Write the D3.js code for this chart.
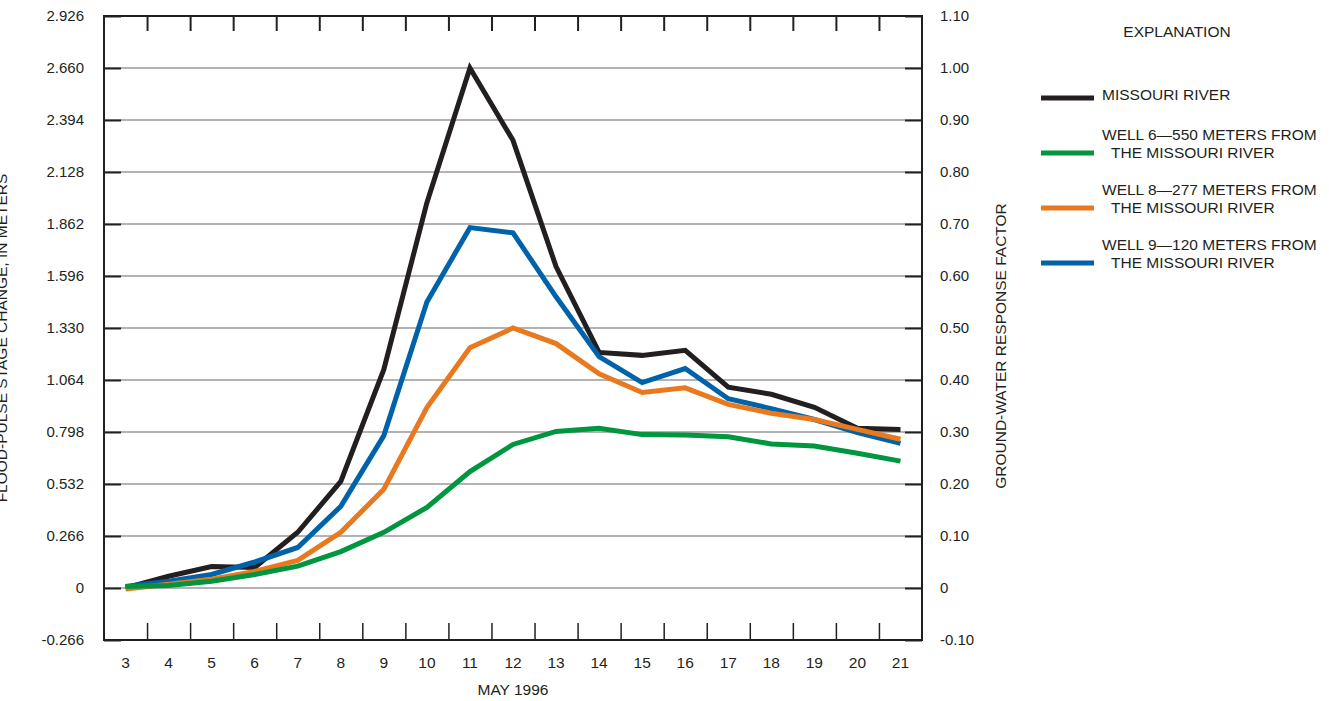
<!DOCTYPE html>
<html lang="en">
  <head>
    <meta charset="utf-8" />
    <title>Flood-pulse stage change and ground-water response</title>
    <style>
      body {
        margin: 0;
        background: #fff;
      }
      svg text {
        font-family: "Liberation Sans", Arial, Helvetica, sans-serif;
        fill: #231f20;
      }
      .grid line {
        stroke: #b3b3b3;
        stroke-width: 2px;
      }
      .series {
        fill: none;
        stroke-width: 5px;
        stroke-linejoin: miter;
      }
    </style>
    <script src="https://d3js.org/d3.v7.min.js"></script>
  </head>
  <body>
    <svg width="1329" height="701"></svg>
    <script>
      // days of May 1996
      var days = [3, 4, 5, 6, 7, 8, 9, 10, 11, 12, 13, 14, 15, 16, 17, 18, 19, 20, 21];

      // Missouri River flood-pulse stage change, meters (left axis)
      var riverStage = [0, 0.06, 0.11, 0.105, 0.285, 0.545, 1.118, 1.971, 2.66, 2.29, 1.644,
        1.205, 1.19, 1.216, 1.027, 0.991, 0.924, 0.817, 0.811];

      // ground-water response factor for the wells (right axis)
      var well6 = [0.003, 0.005, 0.013, 0.026, 0.042, 0.07, 0.107, 0.155, 0.224, 0.276, 0.301,
        0.307, 0.295, 0.294, 0.291, 0.277, 0.273, 0.259, 0.244];
      var well8 = [-0.002, 0.007, 0.017, 0.032, 0.053, 0.107, 0.19, 0.347, 0.462, 0.5, 0.47,
        0.412, 0.376, 0.385, 0.353, 0.336, 0.324, 0.305, 0.286];
      var well9 = [0.003, 0.013, 0.026, 0.05, 0.078, 0.157, 0.293, 0.55, 0.693, 0.683, 0.56,
        0.445, 0.395, 0.422, 0.364, 0.345, 0.324, 0.299, 0.278];

      // tick labels
      var stageTicks = ["-0.266", "0", "0.266", "0.532", "0.798", "1.064", "1.330", "1.596",
        "1.862", "2.128", "2.394", "2.660", "2.926"];
      var factorTicks = ["-0.10", "0", "0.10", "0.20", "0.30", "0.40", "0.50", "0.60", "0.70",
        "0.80", "0.90", "1.00", "1.10"];

      var legendNames = [
        ["MISSOURI RIVER"],
        ["WELL 6\u2014550 METERS FROM", " THE MISSOURI RIVER"],
        ["WELL 8\u2014277 METERS FROM", " THE MISSOURI RIVER"],
        ["WELL 9\u2014120 METERS FROM", " THE MISSOURI RIVER"]
      ];
      var colors = ["#231f20", "#00953f", "#e8791e", "#0063a9"];

      var svg = d3.select("svg");
      // plot box (don't call these top/left: window.top is read-only)
      var plotL = 104, plotR = 922, plotT = 16, plotB = 640;

      var x = d3.scaleLinear().domain([2.5, 21.5]).range([plotL, plotR]);
      var yStage = d3.scaleLinear().domain([-0.266, 2.926]).range([plotB, plotT]);
      var yFactor = d3.scaleLinear().domain([-0.1, 1.1]).range([plotB, plotT]);

      // gridlines
      svg.append("g")
        .attr("class", "grid")
        .selectAll("line")
        .data(stageTicks.slice(1, -1))
        .enter()
        .append("line")
        .attr("x1", plotL)
        .attr("x2", plotR)
        .attr("y1", (d) => yStage(+d))
        .attr("y2", (d) => yStage(+d));

      // left axis, ticks pointing inward
      svg.append("g")
        .attr("transform", `translate(${plotL},0)`)
        .call(d3.axisRight(yStage).tickValues(stageTicks.map(Number)).tickSize(17)
          .tickFormat((d, i) => stageTicks[i]))
        .call((g) => g.select(".domain").remove())
        .call((g) => g.selectAll("line").attr("stroke", "#231f20").attr("stroke-width", 2))
        .call((g) => g.selectAll("text").attr("x", -20).attr("text-anchor", "end"));

      // right axis
      svg.append("g")
        .attr("transform", `translate(${plotR},0)`)
        .call(d3.axisLeft(yFactor).tickValues(factorTicks.map(Number)).tickSize(17)
          .tickFormat((d, i) => factorTicks[i]))
        .call((g) => g.select(".domain").remove())
        .call((g) => g.selectAll("line").attr("stroke", "#231f20").attr("stroke-width", 2))
        .call((g) => g.selectAll("text").attr("x", 18).attr("text-anchor", "start"));

      var halfDays = days.slice(0, -1).map((d) => d + 0.5);

      // bottom axis: labels on days, ticks between days
      var xb = svg.append("g").attr("transform", `translate(0,${plotB})`);
      xb.call(d3.axisTop(x).tickValues(halfDays).tickSize(17).tickFormat(""))
        .call((g) => g.select(".domain").remove())
        .call((g) => g.selectAll("line").attr("stroke", "#231f20").attr("stroke-width", 1.5));
      xb.selectAll(".day")
        .data(days)
        .enter()
        .append("text")
        .attr("class", "day")
        .attr("x", (d) => x(d))
        .attr("y", 28)
        .attr("text-anchor", "middle")
        .attr("font-size", 15.5)
        .text((d) => d);

      // top ticks
      svg.append("g")
        .attr("transform", `translate(0,${plotT})`)
        .call(d3.axisBottom(x).tickValues(halfDays).tickSize(15).tickFormat(""))
        .call((g) => g.select(".domain").remove())
        .call((g) => g.selectAll("line").attr("stroke", "#231f20").attr("stroke-width", 2));

      svg.selectAll(".tick text").attr("font-size", 15);

      // lines: river at the bottom, then wells 9, 8, 6 on top
      var stageLine = d3.line().x((d, i) => x(days[i])).y((d) => yStage(d));
      var factorLine = d3.line().x((d, i) => x(days[i])).y((d) => yFactor(d));

      svg.append("path")
        .attr("class", "series")
        .attr("d", stageLine(riverStage))
        .attr("stroke", colors[0]);
      [[well9, 3], [well8, 2], [well6, 1]].forEach(([vals, c]) => {
        svg.append("path")
          .attr("class", "series")
          .attr("d", factorLine(vals))
          .attr("stroke", colors[c]);
      });

      // frame
      svg.append("rect")
        .attr("x", plotL)
        .attr("y", plotT)
        .attr("width", plotR - plotL)
        .attr("height", plotB - plotT)
        .attr("fill", "none")
        .attr("stroke", "#231f20")
        .attr("stroke-width", 2);

      // axis titles
      svg.append("text")
        .attr("x", (plotL + plotR) / 2)
        .attr("y", 695)
        .attr("text-anchor", "middle")
        .attr("font-size", 15.5)
        .text("MAY 1996");

      svg.append("text")
        .attr("transform", "translate(1006,346) rotate(-90)")
        .attr("text-anchor", "middle")
        .attr("font-size", 15.5)
        .text("GROUND-WATER RESPONSE FACTOR");

      // this one is cut off by the left edge of the figure
      svg.append("text")
        .attr("transform", "translate(7,338) rotate(-90)")
        .attr("text-anchor", "middle")
        .attr("font-size", 15.5)
        .text("FLOOD-PULSE STAGE CHANGE, IN METERS");

      // legend
      svg.append("text")
        .attr("x", 1177)
        .attr("y", 37)
        .attr("text-anchor", "middle")
        .attr("font-size", 15.5)
        .text("EXPLANATION");

      var legendY = [98, 153, 208, 263];
      var lg = svg.append("g").selectAll("g")
        .data(legendNames)
        .enter()
        .append("g")
        .attr("transform", (d, i) => `translate(0,${legendY[i]})`);
      lg.append("line")
        .attr("x1", 1041)
        .attr("x2", 1094)
        .attr("stroke", (d, i) => colors[i])
        .attr("stroke-width", 5);
      lg.selectAll("text")
        .data((d) => d.map((t, j) => ({ t: t, j: j, n: d.length })))
        .enter()
        .append("text")
        .attr("x", (d) => (d.j === 0 ? 1102 : 1107))
        .attr("y", (d) => (d.n === 1 ? 2 : d.j === 0 ? -13 : 5))
        .attr("font-size", 15.5)
        .attr("xml:space", "preserve")
        .style("white-space", "pre")
        .text((d) => d.t);
    </script>
  </body>
</html>
